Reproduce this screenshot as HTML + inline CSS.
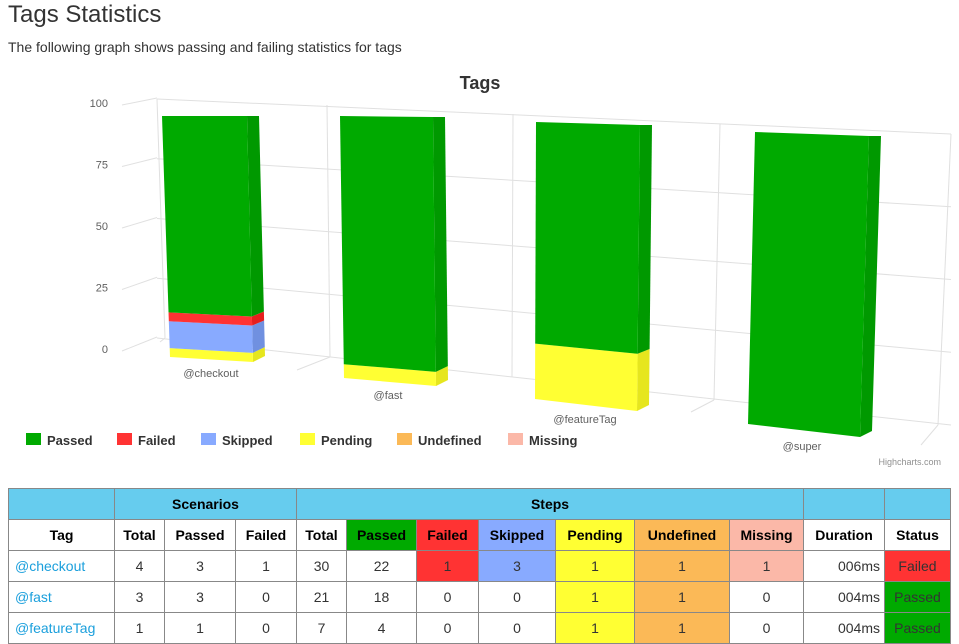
<!DOCTYPE html>
<html><head><meta charset="utf-8"><style>
body{margin:0;width:959px;height:638px;overflow:hidden;background:#fff;font-family:"Liberation Sans",Arial,sans-serif;color:#333;position:relative}
h1{position:absolute;left:8px;top:0;margin:0;font-size:24px;font-weight:normal;line-height:30px}
p.sub{position:absolute;left:8px;top:39px;margin:0;font-size:14px}
svg{position:absolute;left:0;top:0}
table{position:absolute;left:8px;top:488px;border-collapse:collapse;table-layout:fixed;font-size:14px}
td,th{border:1px solid #888;height:30px;padding:0;text-align:center}
th{font-weight:bold;color:#000}
.hd th{background:#66ccee}
a{color:#1a9fdc;text-decoration:none}
td.l{text-align:left;padding-left:6px}
td.r{text-align:right;padding-right:4px}
.g{background:#00aa00}.rd{background:#ff3333}.sk{background:#88aaff}.pe{background:#ffff33}.un{background:#fbb957}.mi{background:#fbb8a8}
</style></head><body>
<h1>Tags Statistics</h1>
<p class="sub">The following graph shows passing and failing statistics for tags</p>
<svg id="chart" width="959" height="480"></svg>
<table>
<colgroup><col style="width:106px"><col style="width:50px"><col style="width:71px"><col style="width:61px"><col style="width:50px"><col style="width:70px"><col style="width:62px"><col style="width:77px"><col style="width:79px"><col style="width:95px"><col style="width:74px"><col style="width:81px"><col style="width:66px"></colgroup>
<tr class="hd"><th></th><th colspan="3">Scenarios</th><th colspan="7">Steps</th><th></th><th></th></tr>
<tr><th>Tag</th><th>Total</th><th>Passed</th><th>Failed</th><th>Total</th><th class="g">Passed</th><th class="rd">Failed</th><th class="sk">Skipped</th><th class="pe">Pending</th><th class="un">Undefined</th><th class="mi">Missing</th><th>Duration</th><th>Status</th></tr>
<tr><td class="l"><a href="#">@checkout</a></td><td>4</td><td>3</td><td>1</td><td>30</td><td>22</td><td class="rd">1</td><td class="sk">3</td><td class="pe">1</td><td class="un">1</td><td class="mi">1</td><td class="r">006ms</td><td class="rd">Failed</td></tr>
<tr><td class="l"><a href="#">@fast</a></td><td>3</td><td>3</td><td>0</td><td>21</td><td>18</td><td>0</td><td>0</td><td class="pe">1</td><td class="un">1</td><td>0</td><td class="r">004ms</td><td class="g">Passed</td></tr>
<tr><td class="l"><a href="#">@featureTag</a></td><td>1</td><td>1</td><td>0</td><td>7</td><td>4</td><td>0</td><td>0</td><td class="pe">1</td><td class="un">1</td><td>0</td><td class="r">004ms</td><td class="g">Passed</td></tr>
</table>
<script>
const categories=["@checkout","@fast","@featureTag","@super"];
const seriesNames=["Passed","Failed","Skipped","Pending","Undefined","Missing"];
const passed=[22,18,4,10];
const failed=[1,0,0,0];
const skipped=[3,0,0,0];
const pending=[1,1,1,0];
const undefinedS=[0,0,0,0];
const missing=[0,0,0,0];
const yTicks=[0,25,50,75,100];

const colors=["#00aa00","#ff3333","#88aaff","#ffff33","#fbb957","#fbb8a8"];
const sideCol=["#009900","#e61e1e","#7090e0","#e6e61e","#e0a040","#e0a090"];
const NS="http://www.w3.org/2000/svg";
const svg=document.getElementById('chart');
function mk(t,a,txt){const e=document.createElementNS(NS,t);for(const k in a)e.setAttribute(k,a[k]);if(txt!==undefined)e.textContent=txt;svg.appendChild(e);return e;}
const wall={lx:157,rx:951,lTop:99,lBot:338,rTop:134,rBot:425};
function wallY(v,side){return side==='l'?wall.lBot+(wall.lTop-wall.lBot)*v/100:wall.rBot+(wall.rTop-wall.rBot)*v/100;}
function labelY(v){return 349+(103-349)*v/100;}
yTicks.forEach(v=>{
  let g=mk('line',{x1:wall.lx,y1:wallY(v,'l'),x2:wall.rx,y2:wallY(v,'r'),stroke:'#e0e0e0','stroke-width':1});
  
  let s=mk('line',{x1:122,y1:labelY(v)+2,x2:wall.lx,y2:wallY(v,'l')-1,stroke:'#e0e0e0'});
  
  let t=mk('text',{x:108,y:labelY(v)+4,'text-anchor':'end','font-size':11,fill:'#606060'},String(v));
  
});
[[157,99,165,338],[327,105,330,357],[513,114,512,377],[720,124,714,400],[951,134,938,425]].forEach(l=>{
  let e=mk('line',{x1:l[0],y1:l[1],x2:l[2],y2:l[3],stroke:'#e0e0e0'});
  
});
[[330,357,297,370],[714,400,691,412],[938,425,921,445],[165,338,160,342]].forEach(l=>{
  let e=mk('line',{x1:l[0],y1:l[1],x2:l[2],y2:l[3],stroke:'#e0e0e0'});
  
});
const frames=[
 {TL:[162,116],TR:[247,116],BL:[170,357],BR:[253,362],lx:211,ly:377},
 {TL:[340,116],TR:[433,117],BL:[344,378],BR:[436,386],lx:388,ly:399},
 {TL:[536,122],TR:[640,125],BL:[535,399],BR:[637,411],lx:585,ly:423},
 {TL:[755,132],TR:[869,136],BL:[748,424],BR:[860,437],lx:802,ly:450}];
const series=[passed,failed,skipped,pending,undefinedS,missing];
function lerp(a,b,f){return [a[0]+(b[0]-a[0])*f,a[1]+(b[1]-a[1])*f];}
categories.forEach((c,i)=>{
  const F=frames[i];
  let total=0;series.forEach(s=>total+=s[i]);
  let acc=0;
  for(let k=series.length-1;k>=0;k--){
    const v=series[k][i];if(!v)continue;
    const f0=acc/total,f1=(acc+v)/total;acc+=v;
    const bl=lerp(F.BL,F.TL,f0),tl=lerp(F.BL,F.TL,f1),br=lerp(F.BR,F.TR,f0),tr=lerp(F.BR,F.TR,f1);
    const sd=[12,-6];
    let side=mk('polygon',{points:[br,tr,[tr[0]+sd[0],tr[1]+sd[1]*(1-f1)],[br[0]+sd[0],br[1]+sd[1]*(1-f0)]].map(p=>p.join(',')).join(' '),fill:sideCol[k]});
    
    let fr=mk('polygon',{points:[bl,tl,tr,br].map(p=>p.join(',')).join(' '),fill:colors[k]});
    
  }
  let t=mk('text',{x:F.lx,y:F.ly,'text-anchor':'middle','font-size':11,fill:'#606060'},c);
  
});
let title=mk('text',{x:480,y:89,'text-anchor':'middle','font-size':18,'font-weight':'bold',fill:'#333'},'Tags');

const legX=[26,117,201,300,397,508];
seriesNames.forEach((n,k)=>{
  let r=mk('rect',{x:legX[k],y:433,width:15,height:12,fill:colors[k]});
  
  let t=mk('text',{x:legX[k]+21,y:445,'font-size':13,'font-weight':'bold',fill:'#333'},n);
  
});
let cr=mk('text',{x:941,y:465,'text-anchor':'end','font-size':9,fill:'#909090'},'Highcharts.com');

</script>
</body></html>
